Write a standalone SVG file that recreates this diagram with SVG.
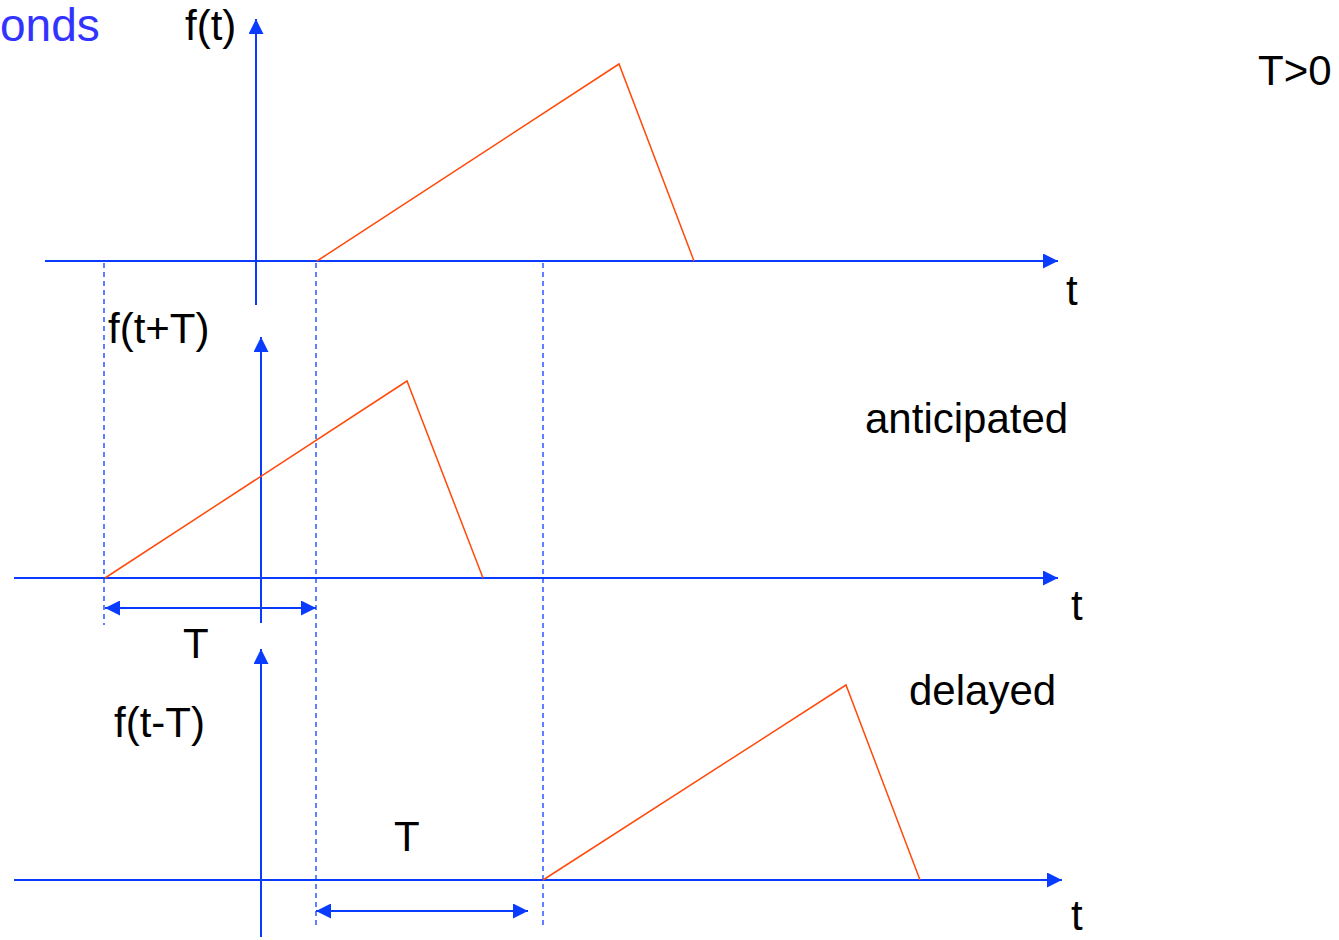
<svg xmlns="http://www.w3.org/2000/svg" width="1339" height="940" viewBox="0 0 1339 940">
<style>
.ax{stroke:#0A3CFF;stroke-width:2;fill:none}
.dim{stroke:#0A3CFF;stroke-width:2;fill:none}
.dash{stroke:#0A3CFF;stroke-width:1.3;stroke-dasharray:5,4;fill:none}
.sig{stroke:#FF4A0A;stroke-width:1.5;fill:none}
.lbl{font-family:"Liberation Sans",Arial,sans-serif;font-size:42px;fill:#000}
</style>
<defs>
<marker id="ah" viewBox="0 0 15 15" refX="15" refY="7.5" markerWidth="15" markerHeight="15" markerUnits="userSpaceOnUse" orient="auto-start-reverse">
<path d="M0,0 L15,7.5 L0,15 Z" fill="#0A3CFF"/>
</marker>
</defs>
<rect width="1339" height="940" fill="#fff"/>
<g id="title"><text x="0" y="41" style="font-family:'Liberation Sans',Arial,sans-serif;font-size:46px;fill:#3333FF">onds</text></g>
<g id="cond"><text class="lbl" x="1258" y="85">T&gt;0</text></g>
<g id="guides">
<line class="dash" x1="104" y1="263" x2="104" y2="625"/>
<line class="dash" x1="316" y1="263" x2="316" y2="926"/>
<line class="dash" x1="543" y1="263" x2="543" y2="926"/>
</g>
<g id="connectors">
<line class="ax" x1="45" y1="261" x2="1058" y2="261" marker-end="url(#ah)"/>
<line class="ax" x1="256" y1="305" x2="256" y2="19" marker-end="url(#ah)"/>
<line class="ax" x1="14" y1="578" x2="1058" y2="578" marker-end="url(#ah)"/>
<line class="ax" x1="261" y1="623" x2="261" y2="337" marker-end="url(#ah)"/>
<line class="ax" x1="14" y1="880" x2="1062" y2="880" marker-end="url(#ah)"/>
<line class="ax" x1="261" y1="937" x2="261" y2="649" marker-end="url(#ah)"/>
<line class="dim" x1="105" y1="608" x2="316" y2="608" marker-start="url(#ah)" marker-end="url(#ah)"/>
<line class="dim" x1="316" y1="911" x2="528" y2="911" marker-start="url(#ah)" marker-end="url(#ah)"/>
</g>
<g id="signal-original">
<polyline class="sig" points="317,261 619,64 694,261"/>
<text class="lbl" x="185" y="40">f(t)</text>
<text class="lbl" x="1066" y="305">t</text>
</g>
<g id="signal-anticipated">
<polyline class="sig" points="105,578 407,381 483,578"/>
<text class="lbl" x="108" y="343">f(t+T)</text>
<text class="lbl" x="865" y="433">anticipated</text>
<text class="lbl" x="1071" y="620">t</text>
<text class="lbl" x="183" y="658">T</text>
</g>
<g id="signal-delayed">
<polyline class="sig" points="543,880 846,685 920,880"/>
<text class="lbl" x="114" y="737">f(t-T)</text>
<text class="lbl" x="909" y="705">delayed</text>
<text class="lbl" x="1071" y="930">t</text>
<text class="lbl" x="394" y="851">T</text>
</g>
</svg>
